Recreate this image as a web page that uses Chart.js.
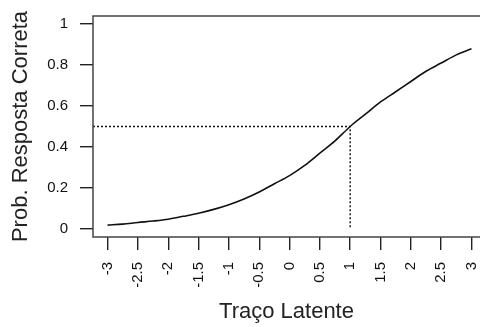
<!DOCTYPE html>
<html>
<head>
<meta charset="utf-8">
<script src="https://cdn.jsdelivr.net/npm/chart.js@4/dist/chart.umd.min.js"></script>
<style>
  html, body { margin: 0; padding: 0; background: #fff; overflow: hidden; }
</style>
</head>
<body>
<canvas id="icc" width="480" height="327"></canvas>
<script>
// values
const theta = [-3, -2.75, -2.5, -2.25, -2, -1.75, -1.5, -1.25, -1, -0.75, -0.5, -0.25, 0,
               0.25, 0.5, 0.75, 1, 1.25, 1.5, 1.75, 2, 2.25, 2.5, 2.75, 3];
const prob = [0.018, 0.023, 0.031, 0.038, 0.047, 0.061, 0.076, 0.095, 0.118, 0.146, 0.18, 0.22, 0.26,
              0.31, 0.37, 0.43, 0.5, 0.56, 0.62, 0.67, 0.72, 0.77, 0.81, 0.85, 0.88];

// dotted guide at b = 1, P = 0.5
const guideX = [-3.24, 1, 1];
const guideY = [0.5, 0.5, 0];

const xTicks = [-3, -2.5, -2, -1.5, -1, -0.5, 0, 0.5, 1, 1.5, 2, 2.5, 3];
const yTicks = [0, 0.2, 0.4, 0.6, 0.8, 1];

const boxPlugin = {
  id: 'box',
  afterDraw(chart) {
    const { ctx, chartArea: a } = chart;
    ctx.save();
    ctx.strokeStyle = '#444';
    ctx.lineWidth = 1.5;
    ctx.strokeRect(a.left, a.top, a.right - a.left + 10, a.bottom - a.top);
    ctx.restore();
  }
};

new Chart(document.getElementById('icc'), {
  type: 'scatter',
  data: {
    datasets: [
      {
        data: theta.map((x, i) => ({ x: x, y: prob[i] })),
        showLine: true,
        borderColor: '#111',
        borderWidth: 1.6,
        pointRadius: 0,
        tension: 0.4,
        cubicInterpolationMode: 'monotone'
      },
      {
        data: guideX.map((x, i) => ({ x: x, y: guideY[i] })),
        showLine: true,
        borderColor: '#111',
        borderWidth: 1.4,
        borderDash: [2, 2],
        pointRadius: 0
      }
    ]
  },
  options: {
    responsive: false,
    animation: false,
    devicePixelRatio: 1,
    layout: { padding: { top: 16, right: 0, left: 0, bottom: 0 } },
    plugins: { legend: { display: false }, tooltip: { enabled: false } },
    scales: {
      x: {
        type: 'linear',
        min: -3.24,
        max: 3.14,
        afterBuildTicks: s => { s.ticks = xTicks.map(v => ({ value: v })); },
        afterFit: s => { s.height = 90; s.paddingLeft = 0; s.paddingRight = 0; },
        grid: { drawOnChartArea: false, drawTicks: true, tickLength: 13, color: '#222', lineWidth: 1.4 },
        border: { display: false },
        ticks: {
          color: '#111',
          font: { family: 'Liberation Sans, Arial', size: 15 },
          minRotation: 90,
          maxRotation: 90,
          padding: 12,
          callback: v => String(v)
        },
        title: {
          display: true,
          text: 'Traço Latente',
          color: '#222',
          font: { family: 'Liberation Sans, Arial', size: 22 },
          padding: { top: 0, bottom: 2 }
        }
      },
      y: {
        type: 'linear',
        min: -0.04,
        max: 1.04,
        afterBuildTicks: s => { s.ticks = yTicks.map(v => ({ value: v })); },
        afterFit: s => { s.width = 93; s.paddingTop = 0; s.paddingBottom = 0; },
        grid: { drawOnChartArea: false, drawTicks: true, tickLength: 13, color: '#222', lineWidth: 1.4 },
        border: { display: false },
        ticks: {
          color: '#111',
          font: { family: 'Liberation Sans, Arial', size: 15 },
          padding: 12,
          callback: v => String(Math.round(v * 10) / 10)
        },
        title: {
          display: true,
          text: 'Prob. Resposta Correta',
          color: '#222',
          font: { family: 'Liberation Sans, Arial', size: 22 },
          padding: { top: 8, bottom: 0 }
        }
      }
    }
  },
  plugins: [boxPlugin]
});
</script>
</body>
</html>
